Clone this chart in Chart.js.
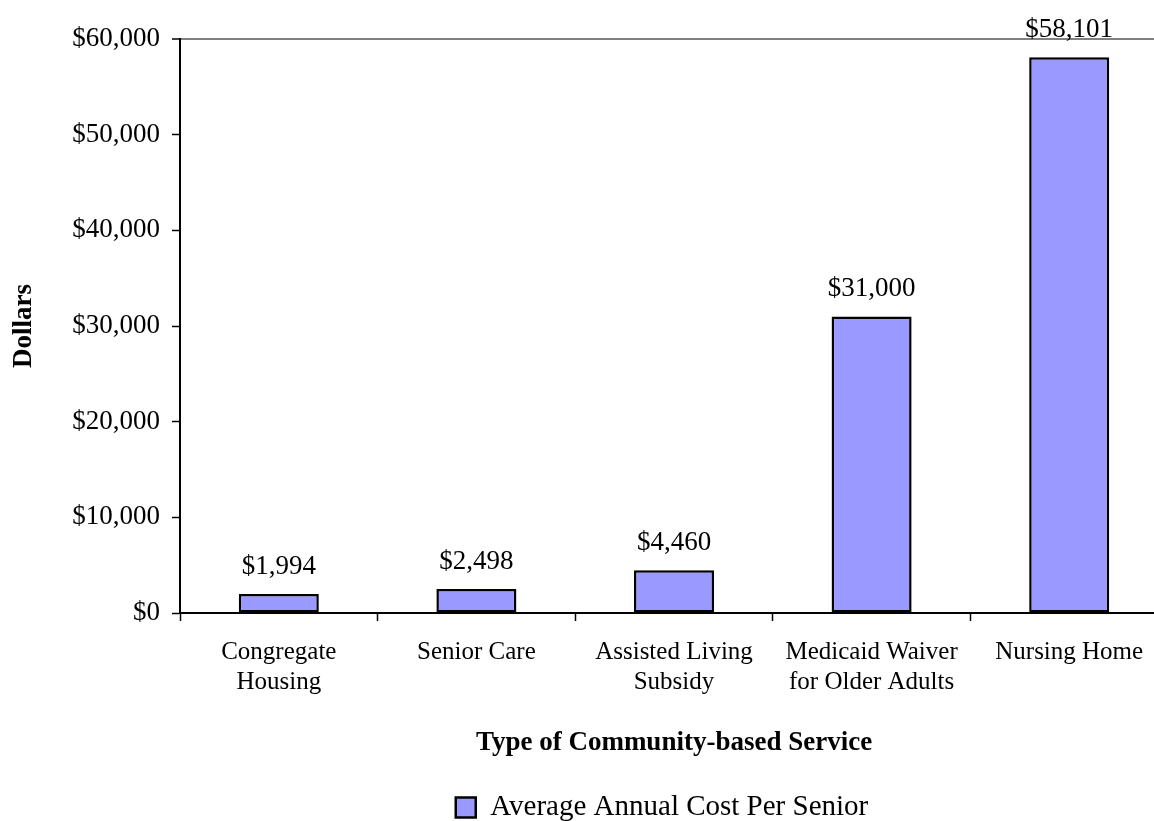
<!DOCTYPE html>
<html>
<head>
<meta charset="utf-8">
<title>Average Annual Cost Per Senior</title>
<script src="https://cdn.jsdelivr.net/npm/chart.js@4/dist/chart.umd.min.js"></script>
<style>
  html, body { margin: 0; padding: 0; background: #fff; overflow: hidden; }
  #costChart { display: block; }
</style>
</head>
<body>
<canvas id="costChart" width="1170" height="821"></canvas>
<script>
// service types (multi-line labels under the axis)
const services = [
  ['Congregate', 'Housing'],
  ['Senior Care'],
  ['Assisted Living', 'Subsidy'],
  ['Medicaid Waiver', 'for Older Adults'],
  ['Nursing Home']
];
// yearly cost per senior, dollars
const costs = [1994, 2498, 4460, 31000, 58101];
const seriesName = 'Average Annual Cost Per Senior';
const yTicks = [0, 10000, 20000, 30000, 40000, 50000, 60000];

const serif = "'Liberation Serif', 'Times New Roman', serif";
const money = v => '$' + v.toLocaleString('en-US');

Chart.defaults.font.family = serif;
Chart.defaults.color = '#000';

// dollar amount above each bar
const valueLabels = {
  id: 'valueLabels',
  afterDatasetsDraw(chart) {
    const ctx = chart.ctx;
    const meta = chart.getDatasetMeta(0);
    ctx.save();
    ctx.font = '27px ' + serif;
    ctx.fillStyle = '#000';
    ctx.textAlign = 'center';
    ctx.textBaseline = 'alphabetic';
    meta.data.forEach((bar, i) => {
      ctx.fillText(money(costs[i]), bar.x, bar.y - 20);
    });
    ctx.restore();
  }
};

// legend sits a bit left of the plot centre and tight to the bottom edge
const legendNudge = {
  id: 'legendNudge',
  afterLayout(chart) {
    const l = chart.legend;
    if (!l) return;
    l.left -= 12;
    l.right -= 12;
    l.top += 11;
    l.bottom += 11;
  }
};

new Chart(document.getElementById('costChart'), {
  type: 'bar',
  data: {
    labels: services,
    datasets: [{
      label: seriesName,
      data: costs,
      backgroundColor: '#9999ff',
      borderColor: '#000',
      borderWidth: 2.5,
      borderSkipped: false,
      barPercentage: 0.405,
      categoryPercentage: 1
    }]
  },
  options: {
    responsive: false,
    animation: false,
    devicePixelRatio: 1,
    layout: { padding: { top: 39, right: 2, bottom: 0, left: 0 } },
    plugins: {
      tooltip: { enabled: false },
      legend: {
        position: 'bottom',
        fullSize: false,
        labels: {
          boxWidth: 20,
          boxHeight: 20,
          padding: 0,
          font: { size: 29, family: serif },
          color: '#000'
        }
      }
    },
    scales: {
      x: {
        offset: true,
        grid: {
          offset: true,
          drawOnChartArea: false,
          drawTicks: true,
          tickLength: 8,
          tickColor: '#000',
          tickWidth: 1.5
        },
        border: { color: '#000', width: 2 },
        ticks: {
          autoSkip: false,
          maxRotation: 0,
          padding: 16,
          font: { size: 25, family: serif, lineHeight: 1.2 },
          color: '#000'
        },
        title: {
          display: true,
          text: 'Type of Community-based Service',
          font: { size: 27, weight: 'bold', family: serif, lineHeight: 1.2 },
          color: '#000',
          padding: { top: 0, bottom: 23 }
        },
        afterFit(scale) { scale.height = 169; }
      },
      y: {
        min: yTicks[0],
        max: yTicks[yTicks.length - 1],
        afterBuildTicks(scale) { scale.ticks = yTicks.map(v => ({ value: v })); },
        grid: {
          color: c => c.tick && c.tick.value === yTicks[yTicks.length - 1] ? '#808080' : 'rgba(0,0,0,0)',
          lineWidth: c => c.tick && c.tick.value === yTicks[yTicks.length - 1] ? 2 : 1,
          tickColor: '#000',
          tickWidth: 1.5,
          tickLength: 8,
          drawTicks: true
        },
        border: { color: '#000', width: 2 },
        ticks: {
          padding: 12,
          font: { size: 27, family: serif },
          color: '#000',
          callback: v => money(v)
        },
        title: {
          display: true,
          text: 'Dollars',
          font: { size: 27, weight: 'bold', family: serif, lineHeight: 1.2 },
          color: '#000',
          padding: { top: 8, bottom: 0 }
        },
        afterFit(scale) { scale.width = 180; }
      }
    }
  },
  plugins: [valueLabels, legendNudge]
});
</script>
</body>
</html>
